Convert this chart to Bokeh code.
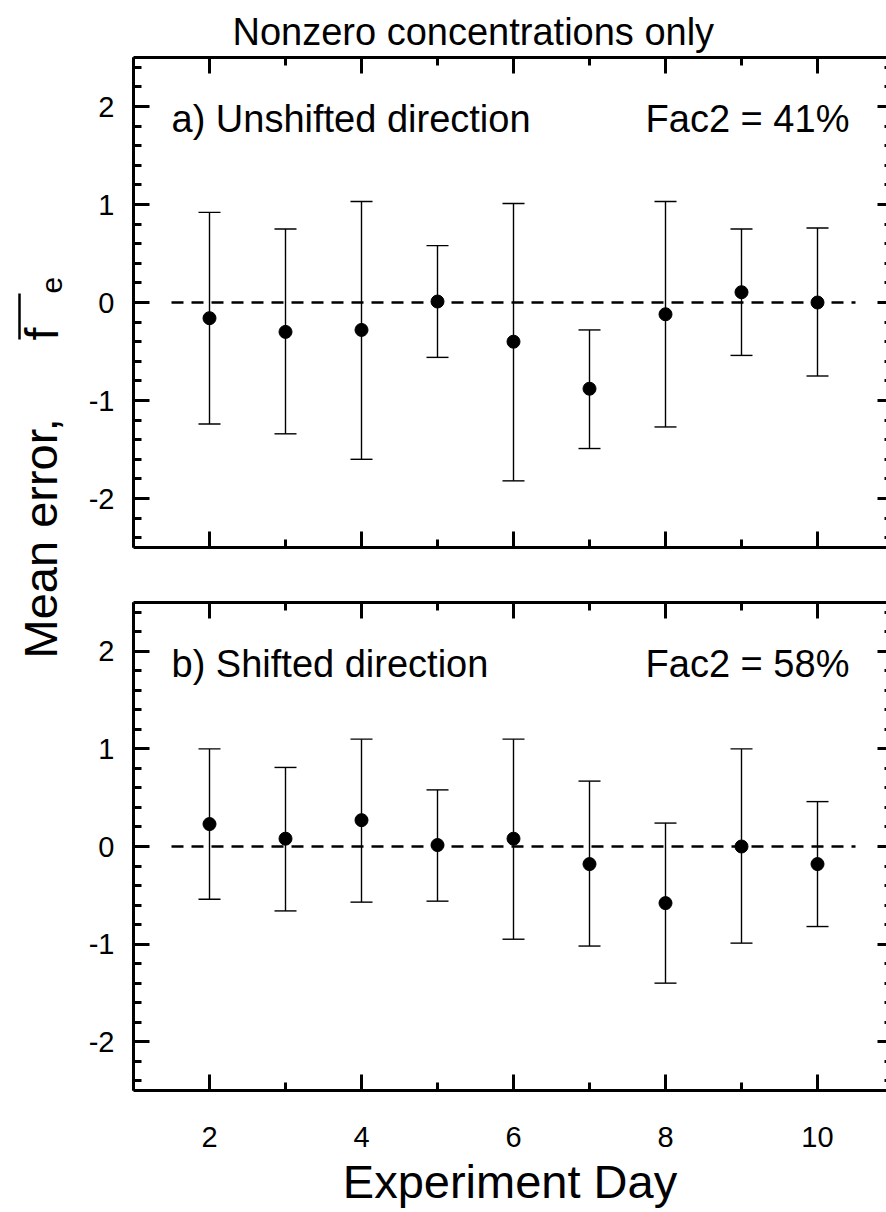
import math
from bokeh.plotting import figure
from bokeh.layouts import row, column
from bokeh.models import (ColumnDataSource, Whisker, TeeHead, Label, LinearAxis,
                          SingleIntervalTicker, Range1d, CustomJSTickFormatter)
from bokeh.embed import file_html
from bokeh.resources import INLINE

# ---------------- data ----------------
days = [2, 3, 4, 5, 6, 7, 8, 9, 10]

a_mean = [-0.16, -0.30, -0.28, 0.01, -0.40, -0.88, -0.12, 0.105, 0.00]
a_upper = [0.92, 0.75, 1.03, 0.58, 1.01, -0.28, 1.03, 0.75, 0.76]
a_lower = [-1.24, -1.34, -1.60, -0.56, -1.82, -1.49, -1.27, -0.54, -0.75]

b_mean = [0.23, 0.08, 0.27, 0.015, 0.08, -0.18, -0.58, 0.00, -0.18]
b_upper = [1.00, 0.81, 1.10, 0.58, 1.10, 0.67, 0.24, 1.00, 0.46]
b_lower = [-0.54, -0.66, -0.57, -0.56, -0.95, -1.02, -1.40, -0.99, -0.82]

ref_days = [1.5, 10.5]
ref_value = [0, 0]

title_text = "Nonzero concentrations only"
panel_a_label = "a) Unshifted direction"
panel_b_label = "b) Shifted direction"
fac2_a = "Fac2 = 41%"
fac2_b = "Fac2 = 58%"
x_label = "Experiment Day"

FONT = "Liberation Sans"
PX_PER_DAY = 76.0
FRAME_W = 753

plain_fmt = CustomJSTickFormatter(code="return tick.toString();")


def style_axis(ax, ticker, show_labels, show_line=True, tick_in=16, minor_in=8):
    ax.ticker = ticker
    ax.axis_line_width = 3
    ax.axis_line_color = "black" if show_line else None
    ax.major_tick_in = tick_in
    ax.major_tick_out = 0
    ax.minor_tick_in = minor_in
    ax.minor_tick_out = 0
    ax.major_tick_line_width = 3
    ax.minor_tick_line_width = 3
    ax.major_tick_line_color = "black"
    ax.minor_tick_line_color = "black"
    ax.major_label_text_font = FONT
    if show_labels:
        ax.formatter = plain_fmt
        ax.major_label_text_color = "black"
        ax.major_label_text_font_size = "29px"
    else:
        ax.major_label_text_color = None
        ax.major_label_text_font_size = "0px"
        ax.major_label_standoff = 0


def make_panel(mean, upper, lower, label, fac, top_border, bottom_border, frame_h, bottom_labels):
    p = figure(frame_width=FRAME_W, frame_height=frame_h,
               x_range=Range1d(1, 1 + FRAME_W / PX_PER_DAY), y_range=Range1d(-2.5, 2.5),
               output_backend="svg", toolbar_location=None,
               min_border_left=63, min_border_right=0,
               min_border_top=top_border, min_border_bottom=bottom_border,
               x_axis_location=None, y_axis_location=None,
               outline_line_color=None, background_fill_color="white",
               border_fill_color="white")
    p.grid.visible = False

    left = LinearAxis()
    style_axis(left, SingleIntervalTicker(interval=1, num_minor_ticks=5), True)
    left.major_label_standoff = 19
    p.add_layout(left, "left")

    right = LinearAxis()
    style_axis(right, SingleIntervalTicker(interval=1, num_minor_ticks=5), False,
               show_line=False, tick_in=9, minor_in=2)
    p.add_layout(right, "right")

    top = LinearAxis()
    style_axis(top, SingleIntervalTicker(interval=2, num_minor_ticks=2), False)
    p.add_layout(top, "above")

    bottom = LinearAxis()
    style_axis(bottom, SingleIntervalTicker(interval=2, num_minor_ticks=2), bottom_labels)
    if bottom_labels:
        bottom.major_label_standoff = 36
        bottom.axis_label = x_label
        bottom.axis_label_text_font = FONT
        bottom.axis_label_text_font_size = "47px"
        bottom.axis_label_text_font_style = "normal"
        bottom.axis_label_text_color = "black"
        bottom.axis_label_standoff = 5
    p.add_layout(bottom, "below")

    # zero reference line
    p.line(ref_days, ref_value, line_color="black", line_width=2.5, line_dash="12 8")

    src = ColumnDataSource(dict(x=days, mean=mean, upper=upper, lower=lower))
    w = Whisker(source=src, base="x", upper="upper", lower="lower",
                line_color="black", line_width=1.4,
                upper_head=TeeHead(size=22, line_color="black", line_width=1.4),
                lower_head=TeeHead(size=22, line_color="black", line_width=1.4))
    p.add_layout(w)
    p.scatter("x", "mean", source=src, size=13, marker="circle",
              fill_color="black", line_color="black")

    p.add_layout(Label(x=1.5, y=1.87, text=label, text_font=FONT, text_font_size="38px",
                       text_color="black", text_align="left", text_baseline="alphabetic"))
    p.add_layout(Label(x=10.42, y=1.87, text=fac, text_font=FONT, text_font_size="38px",
                       text_color="black", text_align="right", text_baseline="alphabetic"))
    return p


pa = make_panel(a_mean, a_upper, a_lower, panel_a_label, fac2_a, 57, 27, 490, False)
pb = make_panel(b_mean, b_upper, b_lower, panel_b_label, fac2_b, 28, 122, 488, True)

pa.title.text = title_text
pa.title.text_font = FONT
pa.title.text_font_size = "38px"
pa.title.text_font_style = "normal"
pa.title.text_color = "black"
pa.title.align = "left"
pa.title.offset = 99
pa.title.standoff = 10

# y-axis label column
lab = figure(width=70, height=1212, x_range=Range1d(0, 70), y_range=Range1d(1212, 0),
             output_backend="svg", toolbar_location=None, min_border=0,
             x_axis_location=None, y_axis_location=None, outline_line_color=None,
             border_fill_color="white", background_fill_color="white")
lab.grid.visible = False
lab.add_layout(Label(x=40, y=658, text="Mean error,", angle=math.pi / 2, text_font=FONT,
                     text_font_size="47px", text_color="black", text_align="left",
                     text_baseline="alphabetic"))
lab.add_layout(Label(x=41, y=340, text="f", angle=math.pi / 2, text_font=FONT,
                     text_font_size="47px", text_color="black", text_align="left",
                     text_baseline="alphabetic"))
lab.add_layout(Label(x=51, y=293, text="e", angle=math.pi / 2, text_font=FONT,
                     text_font_size="30px", text_color="black", text_align="left",
                     text_baseline="alphabetic"))
lab.segment(x0=[19], y0=[339], x1=[19], y1=[293], line_color="black", line_width=2.5)

layout = row(lab, column(pa, pb, spacing=0), spacing=0)

open("out.html", "w").write(file_html(layout, INLINE))
